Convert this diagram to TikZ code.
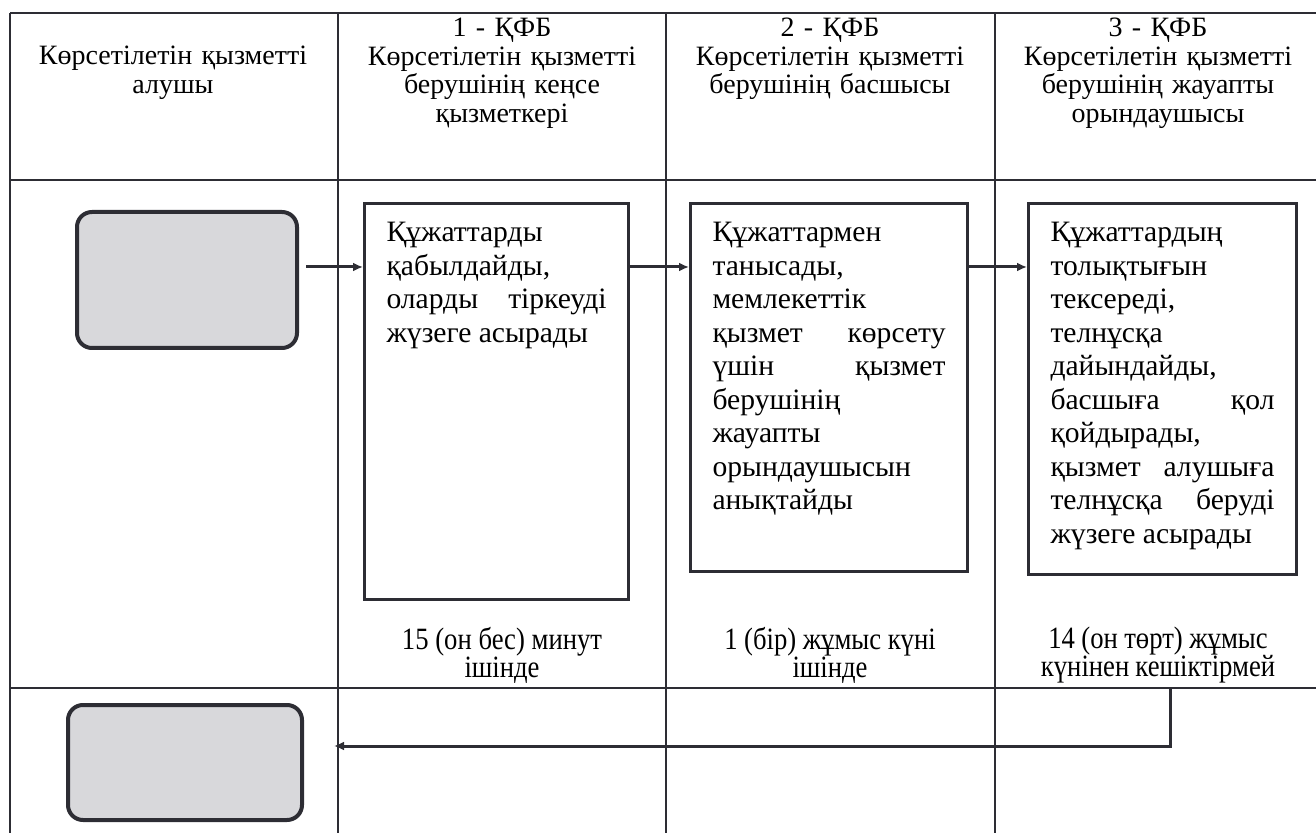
\documentclass[tikz,border=0pt]{standalone}
\usepackage{fontspec}
\setmainfont{Liberation Serif}
\newfontfamily\narrowserif[FakeStretch=0.86]{Liberation Serif}
\usetikzlibrary{arrows.meta, positioning}
\definecolor{inkgray}{RGB}{45,45,52}
\definecolor{capsule}{RGB}{216,216,219}

\newcommand{\steptext}[3]{\parbox[t][#2][t]{#1}{\fontsize{14.8pt}{16.75pt}\selectfont\raggedright #3}}
\newcommand{\tightspaces}{\spaceskip=2.4pt plus 1pt minus 0.5pt\relax}

\begin{document}
\begin{tikzpicture}[x=0.5pt, y=-0.5pt,
    grid/.style={draw=inkgray, line width=0.7pt},
    party/.style={draw=inkgray, fill=capsule, line width=2pt, rounded corners=7.5pt},
    stepbox/.style={draw=inkgray, line width=1.5pt, anchor=north west, inner xsep=11pt, inner ysep=9.5pt},
    head/.style={anchor=north, text width=160pt, align=center, inner sep=0pt, font=\fontsize{14pt}{14.25pt}\selectfont},
    timing/.style={anchor=north, text width=160pt, align=center, inner sep=0pt, font=\narrowserif\fontsize{15.5pt}{14pt}\selectfont},
    flow/.style={draw=inkgray, line width=1.5pt, -{Latex[length=5pt,width=4.5pt]}}]

    \useasboundingbox (0,0) rectangle (1316,833);

    % table
    \foreach \x in {10,338,666,995} \draw[grid] (\x,13) -- (\x,833);
    \foreach \y in {13,180,688} \draw[grid] (10,\y) -- (1316,\y);

    % header
    \node[head] (h0) at (173,46) {Көрсетілетін қызметті\\алушы};
    \node[head] (h1) at (502,18) {1 - ҚФБ\\Көрсетілетін қызметті\\берушінің кеңсе\\қызметкері};
    \node[head] (h2) at (830,18) {2 - ҚФБ\\Көрсетілетін қызметті\\берушінің басшысы};
    \node[head] (h3) at (1158,18) {3 - ҚФБ\\Көрсетілетін қызметті\\берушінің жауапты\\орындаушысы};

    % participants
    \node[party, minimum width=110pt, minimum height=68pt] (recv) at (187,280) {};
    \node[party, minimum width=117pt, minimum height=57.5pt] (result) at (185,762.5) {};

    % steps
    \node[stepbox] (s1) at (363,202) {\steptext{110pt}{179pt}{Құжаттарды\\
        қабылдайды,\\
        оларды\hfill тіркеуді\\
        жүзеге асырады}};
    \node[stepbox] (s2) at (689,202) {\steptext{116.5pt}{165pt}{Құжаттармен\\
        танысады,\\
        мемлекеттік\\
        қызмет\hfill көрсету\\
        үшін\hfill қызмет\\
        берушінің\\
        жауапты\\
        орындаушысын\\
        анықтайды}};
    \node[stepbox] (s3) at (1027,202) {\steptext{112pt}{166.5pt}{Құжаттардың\\
        толықтығын\\
        тексереді,\\
        телнұсқа\\
        дайындайды,\\
        басшыға\hfill қол\\
        қойдырады,\\
        қызмет\hfill алушыға\\
        телнұсқа\hfill беруді\\
        жүзеге асырады}};

    % times
    \node[timing] (t1) at (502,627) {\tightspaces 15 (он бес) минут\\ішінде};
    \node[timing] (t2) at (830,627) {\tightspaces 1 (бір) жұмыс күні\\ішінде};
    \node[timing] (t3) at (1158,627) {\tightspaces 14 (он төрт) жұмыс\\күнінен кешіктірмей};

    % flows
    \draw[flow] ([shift={(7,-13)}]recv.east) coordinate (f0) -- (f0 -| s1.west);
    \draw[flow] (s1.east |- f0) -- (s2.west |- f0);
    \draw[flow] (s2.east |- f0) -- (s3.west |- f0);
    \coordinate (r0) at (1170,688);
    \draw[flow, shorten >=15pt] (r0) |- ([yshift=8.25pt]result.east);
\end{tikzpicture}
\end{document}
